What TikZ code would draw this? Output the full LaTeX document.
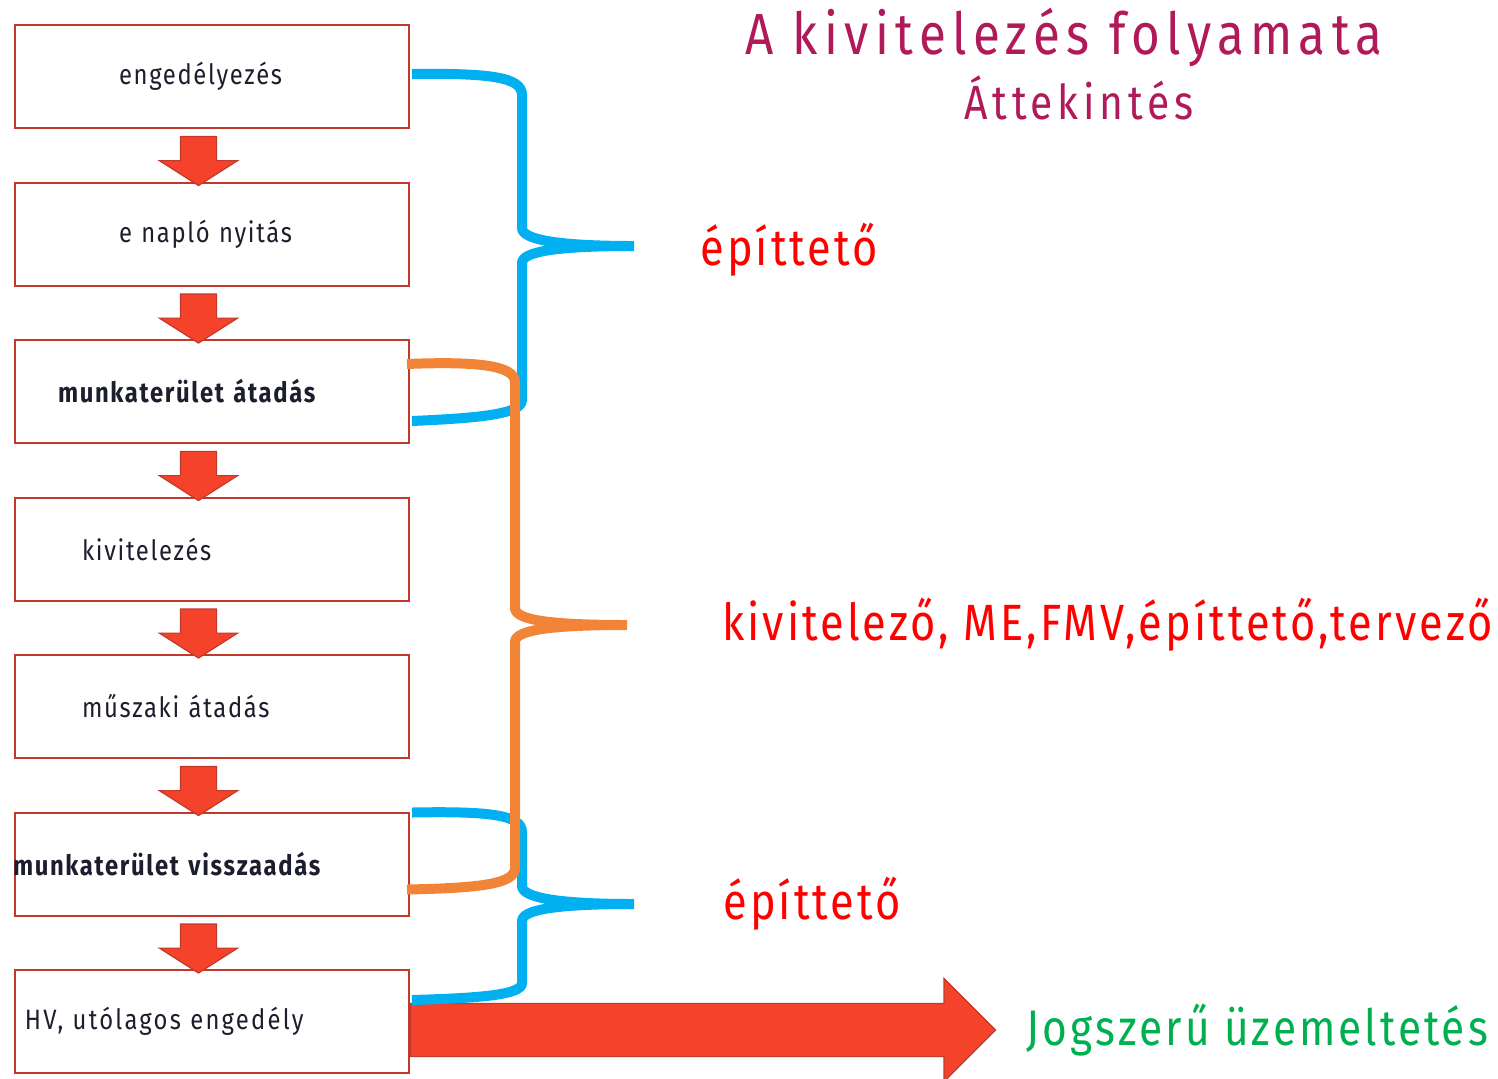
\documentclass[tikz,border=0pt]{standalone}
\usepackage{fontspec}
\setmainfont{Fira Sans}[FakeStretch=0.85,LetterSpace=6]
\usetikzlibrary{positioning}
\usetikzlibrary{shapes.arrows}
\usetikzlibrary{calc}
\definecolor{boxred}{RGB}{192,57,43}
\definecolor{arrowred}{RGB}{244,67,42}
\definecolor{bracecyan}{RGB}{0,176,240}
\definecolor{braceorange}{RGB}{242,132,56}
\definecolor{titlemagenta}{RGB}{176,26,90}
\definecolor{labelred}{RGB}{255,0,0}
\definecolor{labelgreen}{RGB}{0,176,80}
\definecolor{boxtext}{RGB}{28,30,45}

\begin{document}
\begin{tikzpicture}
			[x=0.5pt,y=-0.5pt,
			 box/.style={rectangle,draw=boxred,line width=1pt,fill=white,text=boxtext,
			   text width=197pt,inner xsep=0pt,minimum height=51.5pt,align=left,
			   font=\fontsize{14}{16}\selectfont},
			 downarrow/.style={single arrow,draw=boxred,fill=arrowred,semithick,rotate=-90,
			   minimum height=24.5pt,minimum width=38.5pt,inner xsep=0pt,inner ysep=8.75pt,
			   single arrow head extend=10.5pt,single arrow tip angle=115},
			 bigarrow/.style={single arrow,draw=boxred,fill=arrowred,semithick,
			   minimum height=292.5pt,minimum width=51pt,inner xsep=0pt,inner ysep=13pt,
			   single arrow head extend=12.5pt,single arrow tip angle=90},
			 bracepath/.style={line width=5pt},
			 role/.style={text=labelred,inner sep=0pt,font=\fontsize{25.5}{28}\selectfont},
			 node distance=26.25pt]
			\useasboundingbox (0,0) rectangle (1498,1078);

			\node (b1) [box,anchor=north west] at (14,24) {\hspace*{52pt}engedélyezés};
			\node (b2) [box,below=of b1] {\hspace*{52pt}e napló nyitás};
			\node (b3) [box,below=of b2] {\hspace*{21.5pt}\bfseries munkaterület átadás};
			\node (b4) [box,below=of b3] {\hspace*{33.5pt}kivitelezés};
			\node (b5) [box,below=of b4] {\hspace*{33.5pt}műszaki átadás};
			\node (b6) [box,below=of b5] {\hspace*{-1pt}\bfseries munkaterület visszaadás};
			\node (b7) [box,below=of b6] {\hspace*{5pt}\addfontfeature{LetterSpace=8}HV, utólagos engedély};

			\node (a1) [downarrow] at ($(b1.south)!.5!(b2.north)+(-13.5,0)$) {};
			\node (a2) [downarrow] at ($(b2.south)!.5!(b3.north)+(-13.5,0)$) {};
			\node (a3) [downarrow] at ($(b3.south)!.5!(b4.north)+(-13.5,0)$) {};
			\node (a4) [downarrow] at ($(b4.south)!.5!(b5.north)+(-13.5,0)$) {};
			\node (a5) [downarrow] at ($(b5.south)!.5!(b6.north)+(-13.5,0)$) {};
			\node (a6) [downarrow] at ($(b6.south)!.5!(b7.north)+(-13.5,0)$) {};

			\node (go) [bigarrow,anchor=tail] at ($(b7.east)+(0,8.5)$) {};
			\node (legal) [right=15pt of go.tip,anchor=west,inner sep=0pt,text=labelgreen,
			  font=\fontsize{25}{28}\selectfont] {Jogszerű üzemeltetés};

			\draw [bracepath,bracecyan] ([xshift=1pt,yshift=1.25pt]b1.east)
			  .. controls (490,73) and (522,77) .. (522,95) -- (522,228)
			  .. controls (522,240) and (560,246) .. (634,246) coordinate (c1)
			  .. controls (560,246) and (522,251) .. (522,263) -- (522,400)
			  .. controls (522,414) and (480,418) .. ([xshift=1pt,yshift=-14.75pt]b3.east);
			\draw [bracepath,bracecyan] ([xshift=1pt,yshift=25.75pt]b6.east)
			  .. controls (490,811) and (522,815) .. (522,832) -- (522,886)
			  .. controls (522,898) and (560,904) .. (634,904) coordinate (c3)
			  .. controls (560,904) and (522,909) .. (522,921) -- (522,983)
			  .. controls (522,995) and (480,998) .. ([xshift=1pt,yshift=10.75pt]b7.east);
			\draw [bracepath,braceorange] ([xshift=-1.5pt,yshift=13.75pt]b3.east)
			  .. controls (480,361) and (515,366) .. (515,382) -- (515,608)
			  .. controls (515,620) and (550,625) .. (627,625) coordinate (c2)
			  .. controls (550,625) and (515,630) .. (515,642) -- (515,868)
			  .. controls (515,884) and (480,888) .. ([xshift=-1.5pt,yshift=-12.75pt]b6.east);

			\node (r1) [role,right=33pt of c1,anchor=west,yshift=-2pt] {építtető};
			\node (r2) [role,right=47.5pt of c2,anchor=west] {kivitelező, ME,FMV,építtető,tervező};
			\node (r3) [role,right=44.5pt of c3,anchor=west] {építtető};

			\node (title) [text=titlemagenta,font=\fontsize{29}{32}\selectfont\addfontfeature{LetterSpace=11}] at (1064,37) {A kivitelezés folyamata};
			\node (sub) [text=titlemagenta,font=\fontsize{24}{27}\selectfont\addfontfeature{LetterSpace=10}] at (1079,98) {Áttekintés};
\end{tikzpicture}
\end{document}
